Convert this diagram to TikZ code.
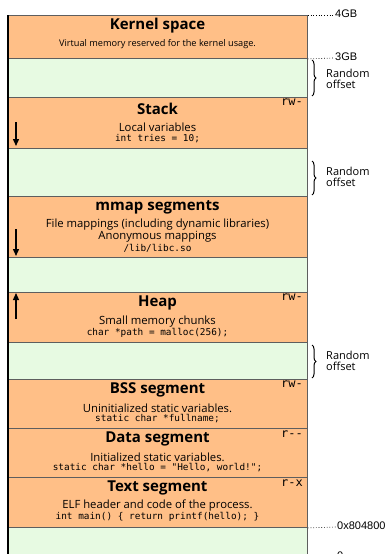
\documentclass[tikz,border=0pt]{standalone}
\usepackage{fontspec}
\setmainfont{Open Sans}
\setmonofont{DejaVu Sans Mono}
\newfontfamily\addrfont{Liberation Sans}
\usetikzlibrary{decorations.pathreplacing,arrows.meta}
\definecolor{segorange}{HTML}{FFBF87}
\definecolor{gapgreen}{HTML}{E7FAE2}
\definecolor{edgegray}{HTML}{5E5E5E}
\tikzset{
  segbox/.style={draw=edgegray, line width=0.9pt, fill=segorange, minimum width=299pt,
    inner sep=0pt, anchor=north west, rectangle},
  gapbox/.style={segbox, fill=gapgreen},
  segtitle/.style={font=\fontsize{15}{17}\selectfont\bfseries, inner sep=0pt},
  segdesc/.style={font=\fontsize{11.3}{13}\selectfont, inner sep=0pt},
  segcode/.style={font=\fontsize{9.4}{10}\selectfont\ttfamily, inner sep=0pt},
  perm/.style={font=\fontsize{12}{12}\selectfont\ttfamily, inner sep=0pt},
  addr/.style={font=\fontsize{11}{12}\selectfont\addrfont, inner sep=0pt, anchor=base west},
  rndlabel/.style={font=\fontsize{11}{13}\selectfont, inner sep=0pt, anchor=west, align=left},
  rndbrace/.style={decorate, decoration={brace, amplitude=4pt}, line width=1pt},
  growarrow/.style={line width=1.3pt, -{Triangle[length=7pt,width=6pt]}},
  addrline/.style={dotted, line width=0.7pt},
}
\begin{document}
\begin{tikzpicture}[x=1pt,y=-1pt]
\clip (0,0) rectangle (390,554);
\fill[white] (0,0) rectangle (390,554);

% memory segments, top to bottom
\node[segbox, minimum height=43pt] (kernel) at (8,15) {};
\node[gapbox, minimum height=39pt] (gap1) at (8,58) {};
\node[segbox, minimum height=51pt] (stack) at (8,97) {};
\node[gapbox, minimum height=48pt] (gap2) at (8,148) {};
\node[segbox, minimum height=61pt] (mmap) at (8,196) {};
\node[gapbox, minimum height=35pt] (gap3) at (8,257) {};
\node[segbox, minimum height=50pt] (heap) at (8,292) {};
\node[gapbox, minimum height=37pt] (gap4) at (8,342) {};
\node[segbox, minimum height=49pt] (bss) at (8,379) {};
\node[segbox, minimum height=49pt] (data) at (8,428) {};
\node[segbox, minimum height=50pt] (text) at (8,477) {};
\node[gapbox, minimum height=50pt] (gap5) at (8,527) {};

% left edge of the address space
\draw[line width=1.8pt] (kernel.north west) -- (gap5.south west);

% kernel space
\node[segtitle] (kt) at (157.5,26) {Kernel space};
\node[font=\fontsize{9.2}{10}\selectfont, inner sep=0pt] (kd) at (157.5,44) {Virtual memory reserved for the kernel usage.};

% stack
\node[segtitle] (st) at (157.5,109) {Stack};
\node[segdesc] (sd) at (157.5,127) {Local variables};
\node[segcode] (sc) at (157.5,138.5) {int tries = 10;};
\node[perm] (sp) at (292,102) {rw-};

% mmap
\node[segtitle] (mt) at (157.5,207) {mmap segments};
\node[segdesc] (md1) at (157.5,225) {File mappings (including dynamic libraries)};
\node[segdesc] (md2) at (157.5,237) {Anonymous mappings};
\node[segcode] (mc) at (157.5,248) {/lib/libc.so};

% heap
\node[segtitle] (ht) at (157.5,303) {Heap};
\node[segdesc] (hd) at (157.5,321.5) {Small memory chunks};
\node[segcode] (hc) at (157.5,332.5) {char *path = malloc(256);};
\node[perm] (hp) at (292,297) {rw-};

% bss
\node[segtitle] (bt) at (157.5,390) {BSS segment};
\node[segdesc] (bd) at (157.5,408) {Uninitialized static variables.};
\node[segcode] (bc) at (157.5,419) {static char *fullname;};
\node[perm] (bp) at (292,384) {rw-};

% data
\node[segtitle] (dt) at (157.5,439) {Data segment};
\node[segdesc] (dd) at (157.5,457) {Initialized static variables.};
\node[segcode] (dc) at (157.5,467.5) {static char *hello = "Hello, world!";};
\node[perm] (dp) at (292,434) {r--};

% text
\node[segtitle] (tt) at (157.5,488) {Text segment};
\node[segdesc] (td) at (157.5,506) {ELF header and code of the process.};
\node[segcode] (tc) at (157.5,517) {int main() \{ return printf(hello); \}};
\node[perm] (tp) at (292,483) {r-x};

% growth directions
\coordinate (sa0) at (16,122); \coordinate (sa1) at (16,146);
\draw[growarrow] (sa0) -- (sa1);
\coordinate (ma0) at (16,229); \coordinate (ma1) at (16,256);
\draw[growarrow] (ma0) -- (ma1);
\coordinate (ha0) at (16,319); \coordinate (ha1) at (16,293);
\draw[growarrow] (ha0) -- (ha1);

% addresses
\coordinate (a4) at (334,15);
\node[addr] (l4) at (335,17) {4GB};
\draw[addrline] (kernel.north east) -- (a4);
\coordinate (a3) at (334,58);
\node[addr] (l3) at (335,60) {3GB};
\draw[addrline] (kernel.south east) -- (a3);
\coordinate (a8) at (336,527);
\node[addr] (l8) at (337,529) {0x804800};
\draw[addrline] (text.south east) -- (a8);
\node[addr] (l0) at (337,559) {0};

% random offsets
\draw[rndbrace] (312,60) -- (312,96);
\node[rndlabel] (r1) at (326,79) {Random\\[-2pt]offset};
\draw[rndbrace] (312,161) -- (312,195);
\node[rndlabel] (r2) at (326,177) {Random\\[-2pt]offset};
\draw[rndbrace] (312,345) -- (312,378);
\node[rndlabel] (r3) at (326,361) {Random\\[-2pt]offset};
\end{tikzpicture}
\end{document}
